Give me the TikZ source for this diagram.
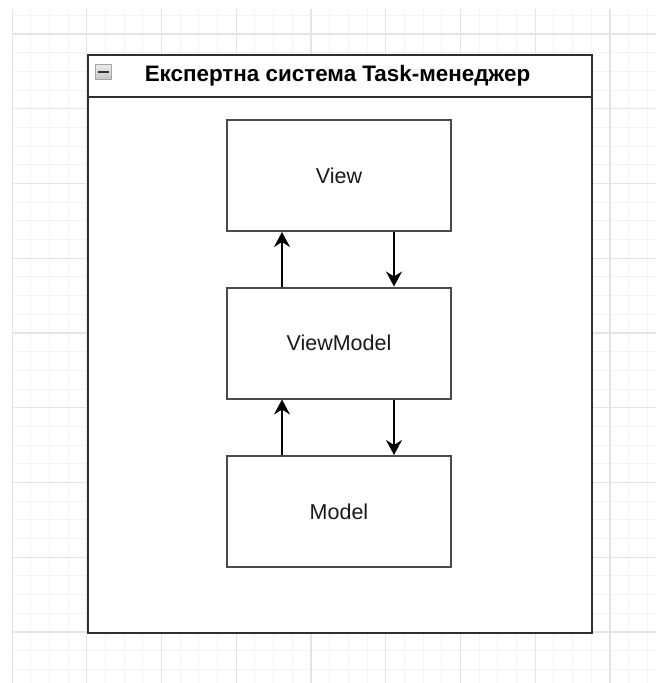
\documentclass[tikz,border=0pt]{standalone}
\usepackage{fontspec}
\setmainfont{Liberation Sans}
\usetikzlibrary{arrows.meta}
\definecolor{gminor}{HTML}{F3F3F3}
\definecolor{gmajor}{HTML}{E4E4E4}
\definecolor{boxline}{HTML}{4A4A4A}
\definecolor{frameline}{HTML}{2E2E2E}
\tikzset{
  mvbox/.style={draw=boxline, line width=2pt, fill=white, minimum width=224pt, minimum height=111pt, inner sep=0pt, text=black!90, font=\fontsize{21.5}{24}\selectfont},
  flow/.style={line width=1.6pt, black, -{Stealth[length=15pt,width=16pt,inset=5pt]}},
}
\begin{document}
\begin{tikzpicture}[x=1pt,y=-1pt]
\useasboundingbox (0,0) rectangle (656,683);
\fill[white] (0,0) rectangle (656,683);
% grid
\begin{scope}
\clip (12,9) rectangle (656,683);
\foreach \k in {0,...,35} {
  \draw[gminor, line width=1pt] ({12+\k*18.6875},9) -- ({12+\k*18.6875},683);
}
\foreach \k in {-1,...,35} {
  \draw[gminor, line width=1pt] (12,{34+\k*18.6875}) -- (656,{34+\k*18.6875});
}
\foreach \k in {0,...,8} {
  \draw[gmajor, line width=1.2pt] ({12+\k*74.75},9) -- ({12+\k*74.75},683);
  \draw[gmajor, line width=1.2pt] (12,{34+\k*74.75}) -- (656,{34+\k*74.75});
}
\end{scope}
% container
\node[draw=frameline, line width=2pt, fill=white, minimum width=504.5pt, minimum height=578pt, inner sep=0pt, anchor=north west] (frame) at (86.5,54) {};
\coordinate (hl) at (86.5,97);
\coordinate (hr) at (591,97);
\draw[frameline, line width=1.8pt] (hl) -- (hr);
\node[font=\bfseries\fontsize{22.4}{25}\selectfont, text=black, inner sep=0pt] (title) at (337.5,75.5) {Експертна система Task-менеджер};
% collapse icon
\node[draw=gray!70, line width=0.8pt, top color=gray!15, bottom color=gray!45, minimum width=16pt, minimum height=15pt, inner sep=0pt] (icon) at (103.5,71.5) {};
\coordinate (ml) at (98,71.5);
\coordinate (mr) at (109,71.5);
\draw[black!80, line width=2pt] (ml) -- (mr);
% boxes
\node[mvbox] (view) at (339,175.5) {View};
\node[mvbox] (vm) at (339,343) {ViewModel};
\node[mvbox] (model) at (339,511.5) {Model};
% arrows
\draw[flow] ([xshift=56pt]vm.north west) -- ([xshift=56pt]view.south west);
\draw[flow] ([xshift=168pt]view.south west) -- ([xshift=168pt]vm.north west);
\draw[flow] ([xshift=56pt]model.north west) -- ([xshift=56pt]vm.south west);
\draw[flow] ([xshift=168pt]vm.south west) -- ([xshift=168pt]model.north west);
\end{tikzpicture}
\end{document}
